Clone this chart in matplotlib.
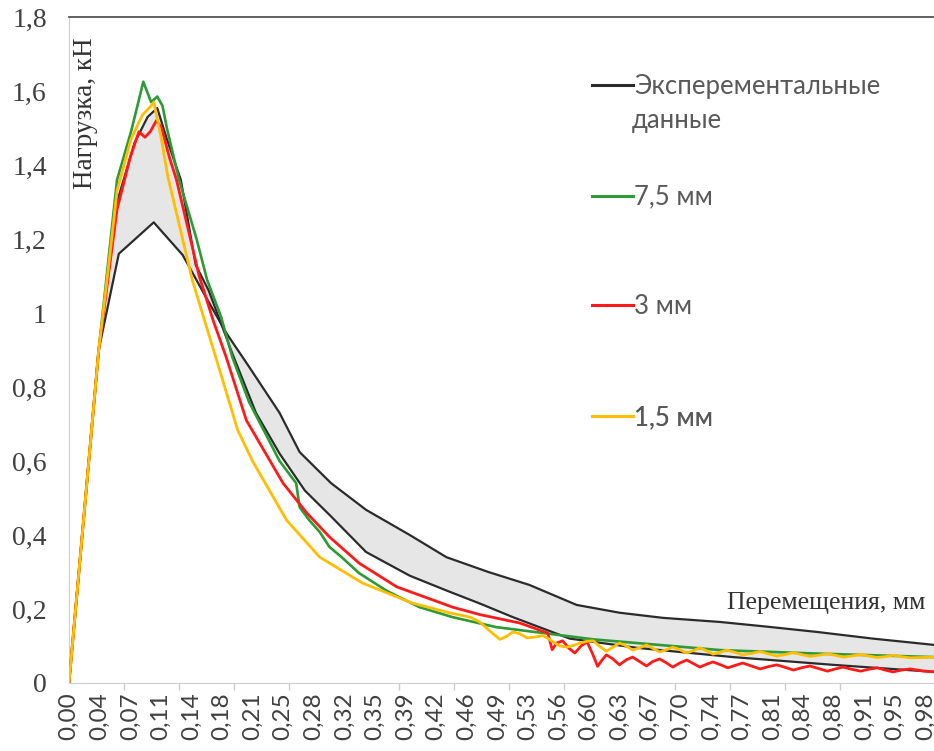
import numpy as np
import matplotlib
matplotlib.use("Agg")
import matplotlib.pyplot as plt
from matplotlib.lines import Line2D

# experimental envelope: curve A (lower peak, upper tail) and curve B (higher peak, lower tail)
exp_a_x = [0, 0.034, 0.057, 0.097, 0.13, 0.155, 0.18, 0.206, 0.241, 0.264, 0.30, 0.34,
           0.39, 0.432, 0.48, 0.527, 0.581, 0.63, 0.68, 0.745, 0.80, 0.856, 0.92, 0.99]
exp_a_y = [0, 0.90, 1.16, 1.245, 1.157, 1.05, 0.946, 0.855, 0.73, 0.624, 0.54, 0.468,
           0.40, 0.34, 0.30, 0.265, 0.211, 0.19, 0.176, 0.165, 0.152, 0.138, 0.12, 0.103]

exp_b_x = [0, 0.034, 0.055, 0.075, 0.09, 0.101, 0.112, 0.128, 0.145, 0.16, 0.187, 0.214,
           0.241, 0.27, 0.30, 0.34, 0.39, 0.432, 0.47, 0.508, 0.573, 0.65, 0.76, 0.875, 0.99]
exp_b_y = [0, 0.90, 1.30, 1.46, 1.53, 1.554, 1.47, 1.36, 1.13, 1.06, 0.89, 0.73,
           0.62, 0.52, 0.45, 0.354, 0.29, 0.25, 0.215, 0.178, 0.12, 0.095, 0.07, 0.049, 0.03]

g75_x = [0, 0.034, 0.055, 0.071, 0.08, 0.085, 0.094, 0.101, 0.107, 0.112, 0.126, 0.146,
         0.158, 0.174, 0.187, 0.206, 0.241, 0.26, 0.264, 0.275, 0.287, 0.298, 0.313, 0.332,
         0.363, 0.401, 0.439, 0.489, 0.516, 0.60, 0.745, 0.85, 0.99]
g75_y = [0, 0.90, 1.36, 1.49, 1.576, 1.625, 1.57, 1.585, 1.56, 1.50, 1.36, 1.20,
         1.09, 0.99, 0.88, 0.76, 0.60, 0.54, 0.475, 0.44, 0.408, 0.368, 0.338, 0.297,
         0.25, 0.205, 0.178, 0.151, 0.143, 0.118, 0.089, 0.08, 0.07]

r3_x = [0, 0.034, 0.055, 0.07, 0.08, 0.087, 0.093, 0.10, 0.106, 0.115, 0.123, 0.149,
        0.165, 0.18, 0.203, 0.245, 0.272, 0.298, 0.332, 0.375, 0.439, 0.47, 0.516, 0.542,
        0.548, 0.553, 0.558, 0.565, 0.572, 0.579, 0.586, 0.593, 0.599, 0.605, 0.610,
        0.615, 0.622, 0.63, 0.638, 0.645, 0.653, 0.661, 0.668, 0.676, 0.684, 0.691,
        0.699, 0.707, 0.715, 0.722, 0.730, 0.737, 0.746, 0.754, 0.763, 0.771, 0.781,
        0.791, 0.80, 0.81, 0.82, 0.829, 0.838, 0.848, 0.858, 0.868, 0.877, 0.886, 0.896,
        0.906, 0.915, 0.925, 0.934, 0.943, 0.953, 0.963, 0.976, 0.99]
r3_y = [0, 0.90, 1.28, 1.42, 1.49, 1.475, 1.49, 1.52, 1.50, 1.42, 1.36, 1.10,
        0.98, 0.88, 0.71, 0.54, 0.46, 0.395, 0.324, 0.26, 0.205, 0.185, 0.162, 0.14,
        0.135, 0.09, 0.108, 0.114, 0.094, 0.081, 0.100, 0.111, 0.080, 0.045, 0.062,
        0.076, 0.066, 0.049, 0.063, 0.070, 0.058, 0.046, 0.058, 0.065, 0.054, 0.043,
        0.054, 0.062, 0.052, 0.043, 0.051, 0.057, 0.049, 0.041, 0.048, 0.054, 0.046,
        0.038, 0.044, 0.049, 0.042, 0.035, 0.041, 0.046, 0.039, 0.032, 0.038, 0.043, 0.037,
        0.032, 0.037, 0.041, 0.035, 0.03, 0.035, 0.038, 0.033, 0.03]

y15_x = [0, 0.034, 0.045, 0.055, 0.071, 0.084, 0.094, 0.097, 0.105, 0.113, 0.141, 0.168,
         0.193, 0.21, 0.249, 0.287, 0.336, 0.393, 0.435, 0.459, 0.47, 0.482, 0.493, 0.50,
         0.508, 0.516, 0.524, 0.533, 0.542, 0.548, 0.554, 0.562, 0.57, 0.578, 0.585,
         0.593, 0.60, 0.608, 0.615, 0.622, 0.63, 0.638, 0.645, 0.653, 0.661, 0.668,
         0.676, 0.684, 0.691, 0.699, 0.707, 0.715, 0.722, 0.730, 0.737, 0.745, 0.753,
         0.762, 0.771, 0.781, 0.791, 0.80, 0.81, 0.82, 0.829, 0.838, 0.848, 0.858,
         0.868, 0.877, 0.886, 0.896, 0.906, 0.915, 0.925, 0.934, 0.943, 0.953, 0.963,
         0.976, 0.99]
y15_y = [0, 0.90, 1.12, 1.33, 1.47, 1.535, 1.56, 1.57, 1.48, 1.37, 1.09, 0.88,
         0.684, 0.60, 0.44, 0.34, 0.27, 0.216, 0.19, 0.178, 0.165, 0.14, 0.118, 0.125,
         0.138, 0.133, 0.122, 0.124, 0.128, 0.121, 0.111, 0.100, 0.097, 0.102, 0.108,
         0.113, 0.114, 0.098, 0.086, 0.096, 0.108, 0.100, 0.089, 0.095, 0.103, 0.094,
         0.084, 0.090, 0.097, 0.090, 0.081, 0.088, 0.095, 0.087, 0.078, 0.083, 0.089,
         0.083, 0.076, 0.080, 0.085, 0.079, 0.073, 0.077, 0.082, 0.077, 0.072, 0.075,
         0.079, 0.075, 0.07, 0.073, 0.077, 0.073, 0.069, 0.071, 0.075, 0.071, 0.068,
         0.069, 0.07]

x_labels = ["0,00", "0,04", "0,07", "0,11", "0,14", "0,18", "0,21", "0,25", "0,28", "0,32",
            "0,35", "0,39", "0,42", "0,46", "0,49", "0,53", "0,56", "0,60", "0,63", "0,67",
            "0,70", "0,74", "0,77", "0,81", "0,84", "0,88", "0,91", "0,95", "0,98"]
y_labels = ["0", "0,2", "0,4", "0,6", "0,8", "1", "1,2", "1,4", "1,6", "1,8"]

BLACK = "#2b2b2b"
GREEN = "#2e9a35"
RED = "#ff1a1a"
GOLD = "#ffbf00"
GRAY_TXT = "#595959"

fig = plt.figure(figsize=(9.34, 7.51), dpi=100)
ax = fig.add_axes([69 / 934, 1 - 683 / 751, 865 / 934, 666 / 751])

# gray band between the two experimental curves
ax.fill(np.concatenate([exp_a_x, exp_b_x[::-1]]),
        np.concatenate([exp_a_y, exp_b_y[::-1]]),
        color="#e6e6e6", lw=0, zorder=1)
ax.plot(exp_a_x, exp_a_y, color=BLACK, lw=1.6, zorder=2)
ax.plot(exp_b_x, exp_b_y, color=BLACK, lw=1.6, zorder=2)
ax.plot(g75_x, g75_y, color=GREEN, lw=1.9, zorder=3)
ax.plot(r3_x, r3_y, color=RED, lw=2.0, zorder=4)
ax.plot(y15_x, y15_y, color=GOLD, lw=2.0, zorder=5)

ax.set_xlim(0, 0.99)
ax.set_ylim(0, 1.8)

ax.set_xticks(np.arange(len(x_labels)) * 0.035)
ax.set_xticklabels(x_labels, rotation=90, family="Lato", fontsize=17.5, color="#404040")
ax.set_xticks(np.arange(0, 0.99, 0.063), minor=True)
ax.tick_params(axis="x", which="major", length=0, pad=7)
ax.tick_params(axis="x", which="minor", length=5, color="#cccccc", width=1)

ax.set_yticks(np.arange(len(y_labels)) * 0.2)
ax.set_yticklabels(y_labels, family="Liberation Serif", fontsize=20, color="#404040")
ax.tick_params(axis="y", length=0, pad=16)

ax.spines["right"].set_visible(False)
ax.spines["top"].set_color("#555555")
ax.spines["top"].set_linewidth(1.3)
ax.spines["left"].set_color("#cfcfcf")
ax.spines["bottom"].set_color("#cfcfcf")

ax.text(0.0185, 0.97, "Нагрузка, кН", rotation=90, ha="center", va="top",
        family="Liberation Serif", fontsize=19.5, color="#333333", transform=ax.transAxes)
ax.text(0.99, 0.12, "Перемещения, мм", ha="right", va="center",
        family="Liberation Serif", fontsize=18.5, color="#333333", transform=ax.transAxes)

# legend: one entry per box to keep the wide spacing of the original
entries = [("Эксперементальные", BLACK, 0.895),
           ("7,5 мм", GREEN, 0.7297),
           ("3 мм", RED, 0.5646),
           ("1,5 мм", GOLD, 0.398)]
for label, col, ypos in entries:
    leg = ax.legend([Line2D([0], [0], color=col, lw=2.2)], [label],
                    loc="center left", bbox_to_anchor=(0.6046, ypos),
                    frameon=False, borderpad=0, borderaxespad=0,
                    handlelength=1.6, handletextpad=0.05,
                    prop={"family": "Lato", "size": 18.5})
    for t in leg.get_texts():
        t.set_color(GRAY_TXT)
    ax.add_artist(leg)
ax.text(0.651, 0.845, "данные", ha="left", va="center", family="Lato",
        fontsize=18.5, color=GRAY_TXT, transform=ax.transAxes)

fig.savefig("out.png", dpi=100)
